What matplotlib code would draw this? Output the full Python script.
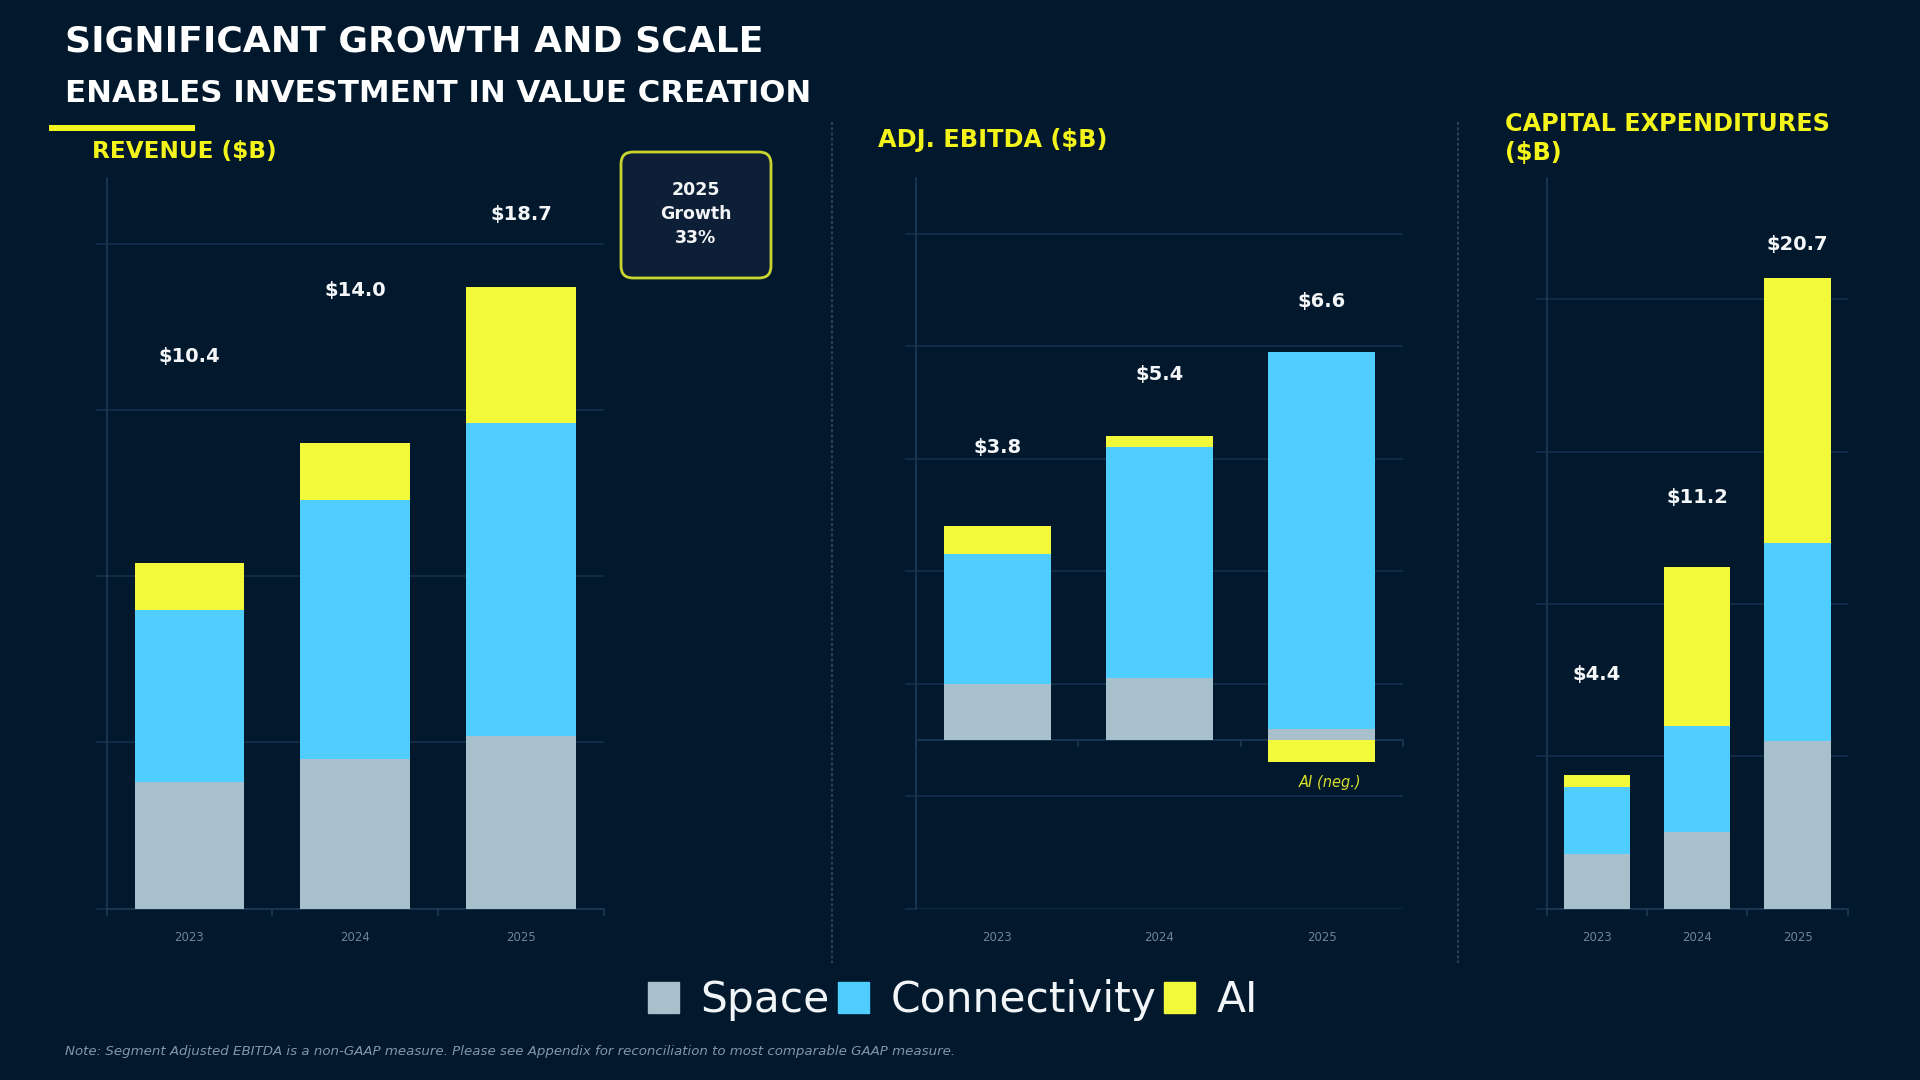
import matplotlib
matplotlib.use('Agg')
import matplotlib.pyplot as plt
import numpy as np
import matplotlib.transforms as mtransforms
from matplotlib.patches import Patch, FancyBboxPatch, Rectangle
from matplotlib.lines import Line2D

# ---------------- data ----------------
years = ['2023', '2024', '2025']
segments = ['Space', 'Connectivity', 'AI']

revenue_space = [3.8, 4.5, 5.2]
revenue_connectivity = [5.2, 7.8, 9.4]
revenue_ai = [1.4, 1.7, 4.1]
revenue_totals = ['$10.4', '$14.0', '$18.7']

ebitda_space = [1.0, 1.1, 0.2]
ebitda_connectivity = [2.3, 4.1, 6.7]
ebitda_ai = [0.5, 0.2, -0.4]
ebitda_totals = ['$3.8', '$5.4', '$6.6']

capex_space = [1.8, 2.5, 5.5]
capex_connectivity = [2.2, 3.5, 6.5]
capex_ai = [0.4, 5.2, 8.7]
capex_totals = ['$4.4', '$11.2', '$20.7']

growth_text = '2025\nGrowth\n33%'
title_1 = 'SIGNIFICANT GROWTH AND SCALE'
title_2 = 'ENABLES INVESTMENT IN VALUE CREATION'
note_text = ('Note: Segment Adjusted EBITDA is a non-GAAP measure. Please see Appendix '
             'for reconciliation to most comparable GAAP measure.')

# ---------------- style ----------------
BG = '#01182d'
C_SPACE = '#a8bfcc'
C_CONN = '#4fcdfd'
C_AI = '#f2f93b'
GRID = '#12304a'
SPINE = '#1c3a56'
YELLOW = '#f4f41a'
seg_colors = [C_SPACE, C_CONN, C_AI]

plt.rcParams['font.family'] = ['DejaVu Sans']

fig = plt.figure(figsize=(19.2, 10.8), dpi=100, facecolor=BG)


def draw_panel(rect, space, conn, ai, totals, ylim, grid_vals, label_y, zero_spine=False):
    ax = fig.add_axes(rect)
    ax.set_facecolor(BG)
    x = np.arange(len(years))
    pos_bottom = np.zeros(len(x))
    neg_bottom = np.zeros(len(x))
    for vals, col in zip([space, conn, ai], seg_colors):
        vals = np.asarray(vals, float)
        bottoms = np.where(vals >= 0, pos_bottom, neg_bottom)
        ax.bar(x, vals, width=0.66, bottom=bottoms, color=col, linewidth=0, zorder=3)
        pos_bottom += np.clip(vals, 0, None)
        neg_bottom += np.clip(vals, None, 0)
    ax.set_xlim(-0.5, 2.5)
    ax.set_ylim(*ylim)
    ax.set_yticks(grid_vals)
    ax.set_yticklabels([])
    ax.yaxis.grid(True, color=GRID, lw=1.2)
    ax.set_axisbelow(True)
    ax.set_xticks([-0.5, 0.5, 1.5, 2.5])
    ax.set_xticklabels([])
    ax.tick_params(axis='x', length=5, color=SPINE, width=1.2, direction='out')
    ax.tick_params(axis='y', length=8, color=GRID, width=1.2, direction='out')
    for s in ['top', 'right']:
        ax.spines[s].set_visible(False)
    for s in ['left', 'bottom']:
        ax.spines[s].set_color(SPINE)
        ax.spines[s].set_linewidth(1.2)
    if zero_spine:
        ax.spines['bottom'].set_position(('data', 0))
    trans = mtransforms.blended_transform_factory(ax.transData, ax.transAxes)
    for xi, yr in zip(x, years):
        ax.text(xi, -0.04, yr, transform=trans, ha='center', va='center',
                fontsize=8.5, color='#6f8398')
    for xi, t, ly in zip(x, totals, label_y):
        ax.text(xi, ly, t, ha='center', va='center', fontsize=14,
                fontweight='bold', color='#f4f6f8', zorder=5)
    return ax


ax_rev = draw_panel([0.0555, 0.1587, 0.259, 0.6769], revenue_space, revenue_connectivity,
                    revenue_ai, revenue_totals, (0, 22), [0, 5, 10, 15, 20],
                    [16.6, 18.6, 20.9])
ax_eb = draw_panel([0.4771, 0.1587, 0.2536, 0.6769], ebitda_space, ebitda_connectivity,
                   ebitda_ai, ebitda_totals, (-3, 10), [-3, -1, 1, 3, 5, 7, 9],
                   [5.2, 6.5, 7.8], zero_spine=True)
ax_cx = draw_panel([0.8055, 0.1587, 0.1569, 0.6769], capex_space, capex_connectivity,
                   capex_ai, capex_totals, (0, 24), [0, 5, 10, 15, 20],
                   [7.7, 13.5, 21.8])

ax_eb.text(2.05, -0.76, 'AI (neg.)', ha='center', va='center', fontsize=10.5,
           style='italic', color='#d8df2c')

# ---------------- titles ----------------
fig.text(65 / 1920, 1 - 52 / 1080, title_1, ha='left', va='baseline', fontsize=26,
         fontweight='bold', color='white')
fig.text(65 / 1920, 1 - 102.5 / 1080, title_2, ha='left', va='baseline', fontsize=22.2,
         fontweight='bold', color='white')
fig.add_artist(Rectangle((49 / 1920, 1 - 131 / 1080), 146 / 1920, 6 / 1080,
                         transform=fig.transFigure, color=YELLOW, lw=0))

fig.text(92 / 1920, 1 - 158 / 1080, 'REVENUE ($B)', ha='left', va='baseline',
         fontsize=16.7, fontweight='bold', color=YELLOW)
fig.text(878 / 1920, 1 - 147 / 1080, 'ADJ. EBITDA ($B)', ha='left', va='baseline',
         fontsize=17.3, fontweight='bold', color=YELLOW)
fig.text(1505 / 1920, 1 - 131 / 1080, 'CAPITAL EXPENDITURES', ha='left', va='baseline',
         fontsize=17.2, fontweight='bold', color=YELLOW)
fig.text(1505 / 1920, 1 - 160.5 / 1080, '($B)', ha='left', va='baseline',
         fontsize=17.2, fontweight='bold', color=YELLOW)

# growth box
box = FancyBboxPatch((6.21, (1080 - 278) / 100), 1.50, 1.26,
                     boxstyle='round,pad=0,rounding_size=0.12',
                     transform=fig.dpi_scale_trans, facecolor='#0c1f36',
                     edgecolor='#c9d52e', linewidth=2)
fig.add_artist(box)
fig.text(696 / 1920, 1 - 214 / 1080, growth_text, ha='center', va='center',
         fontsize=12.5, fontweight='bold', color='#f2f4f6', linespacing=1.4)

# dividers
for xd in [832, 1458]:
    fig.add_artist(Line2D([xd / 1920, xd / 1920], [1 - 122 / 1080, 1 - 963 / 1080],
                          transform=fig.transFigure, color='#2a3f56', lw=1.5,
                          linestyle=(0, (1.5, 1))))

# legend
handles = [Patch(facecolor=c, edgecolor=c, label=s) for c, s in zip(seg_colors, segments)]
fig.legend(handles=handles, loc='center', bbox_to_anchor=(0.4964, 0.074), ncol=3,
           frameon=False, fontsize=30.5, labelcolor='#f2f5f8', handlelength=0.73,
           handleheight=0.73, handletextpad=0.5, columnspacing=0.2,
           borderaxespad=0, borderpad=0)

fig.text(65 / 1920, 1 - 1052 / 1080, note_text, ha='left', va='center', fontsize=9.6,
         style='italic', color='#8496aa')

fig.savefig('out.png', dpi=100, facecolor=BG)
